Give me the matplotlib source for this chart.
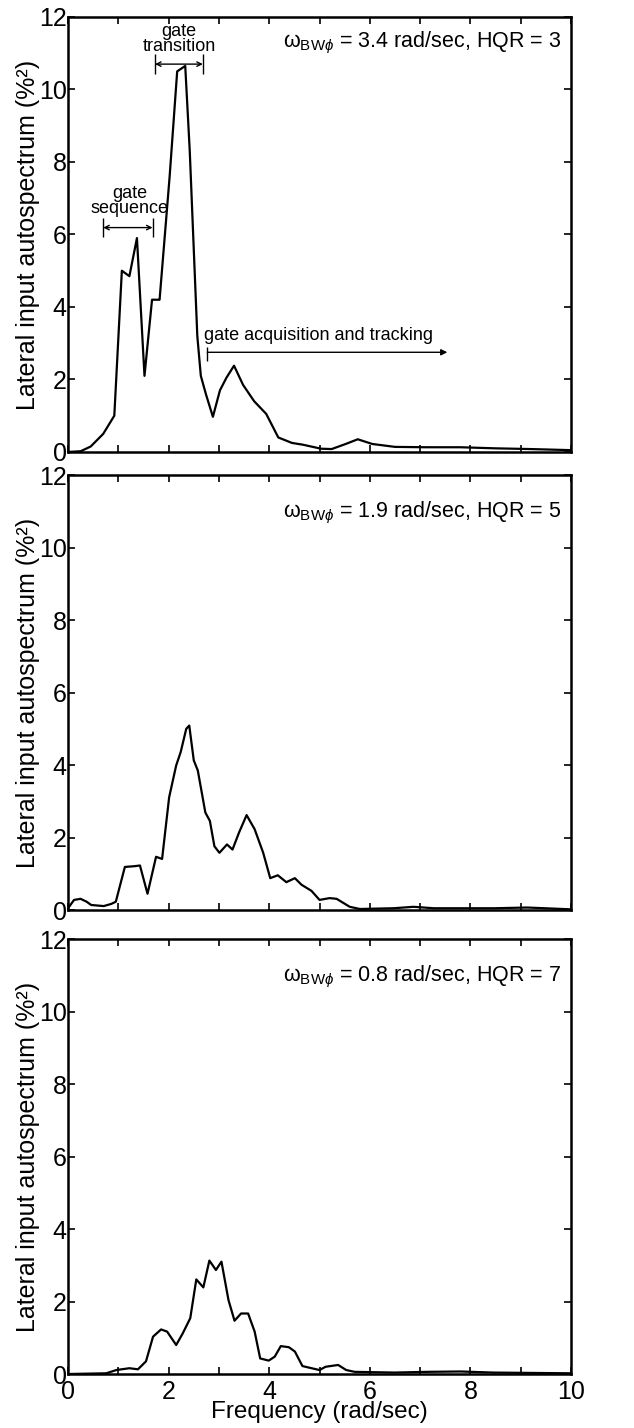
import numpy as np
import matplotlib
matplotlib.use('Agg')
import matplotlib.pyplot as plt

plt.rcParams['font.family'] = ['Liberation Sans', 'DejaVu Sans']
plt.rcParams['mathtext.fontset'] = 'custom'
plt.rcParams['mathtext.rm'] = 'Liberation Sans'
plt.rcParams['mathtext.it'] = 'Liberation Sans:italic'
plt.rcParams['mathtext.fallback'] = 'stixsans'

# --- autospectra (rad/sec, %^2) ---
freq_hqr3 = [0, 0.25, 0.45, 0.7, 0.92, 1.07, 1.22, 1.37, 1.52, 1.67, 1.82, 2.02, 2.17, 2.33,
             2.42, 2.57, 2.64, 2.74, 2.88, 3.02, 3.15, 3.3, 3.48, 3.7, 3.94, 4.18, 4.45, 4.67,
             5.03, 5.24, 5.52, 5.76, 6.05, 6.5, 7.1, 7.8, 8.5, 9.2, 10]
psd_hqr3 = [0, 0.02, 0.15, 0.5, 1.0, 5.0, 4.85, 5.9, 2.1, 4.2, 4.2, 7.6, 10.5, 10.65,
            8.3, 3.2, 2.1, 1.6, 0.97, 1.7, 2.05, 2.38, 1.85, 1.4, 1.05, 0.4, 0.25, 0.2,
            0.09, 0.08, 0.22, 0.35, 0.22, 0.14, 0.13, 0.13, 0.1, 0.08, 0.05]

freq_hqr5 = [0, 0.12, 0.25, 0.37, 0.46, 0.71, 0.86, 0.95, 1.13, 1.32, 1.43, 1.58, 1.75, 1.87,
             2.01, 2.15, 2.24, 2.35, 2.41, 2.5, 2.58, 2.73, 2.82, 2.91, 3.01, 3.16, 3.27, 3.4,
             3.55, 3.71, 3.88, 4.02, 4.17, 4.34, 4.51, 4.64, 4.84, 5.0, 5.2, 5.34, 5.6, 5.8,
             6.47, 6.87, 7.27, 8.47, 9.13, 10]
psd_hqr5 = [0.05, 0.28, 0.31, 0.23, 0.14, 0.11, 0.17, 0.23, 1.19, 1.21, 1.23, 0.45, 1.47, 1.41,
            3.11, 3.99, 4.36, 5.0, 5.09, 4.13, 3.85, 2.69, 2.46, 1.76, 1.58, 1.81, 1.67, 2.14,
            2.62, 2.23, 1.58, 0.88, 0.96, 0.77, 0.88, 0.7, 0.53, 0.28, 0.33, 0.31, 0.09, 0.03,
            0.05, 0.09, 0.05, 0.05, 0.07, 0.02]

freq_hqr7 = [0, 0.76, 0.96, 1.22, 1.39, 1.55, 1.69, 1.85, 1.97, 2.15, 2.28, 2.43, 2.55, 2.69,
             2.81, 2.94, 3.05, 3.19, 3.31, 3.44, 3.58, 3.71, 3.82, 3.99, 4.11, 4.23, 4.39, 4.51,
             4.66, 4.78, 5.0, 5.12, 5.37, 5.53, 5.7, 6.49, 7.14, 7.8, 8.46, 10]
psd_hqr7 = [0.0, 0.02, 0.11, 0.16, 0.13, 0.35, 1.03, 1.23, 1.17, 0.8, 1.12, 1.54, 2.61, 2.39,
            3.13, 2.87, 3.1, 2.04, 1.47, 1.67, 1.67, 1.17, 0.43, 0.37, 0.48, 0.77, 0.74, 0.62,
            0.22, 0.18, 0.11, 0.2, 0.25, 0.11, 0.06, 0.04, 0.06, 0.07, 0.04, 0.02]

bandwidths = ['3.4', '1.9', '0.8']
hqr = ['3', '5', '7']
label_y = [11.28, 10.95, 10.95]

# gate phase annotations on the top panel (x0, x1, y)
seq_span = [0.70, 1.68, 6.19]
trans_span = [1.73, 2.68, 10.7]
acq_span = [2.77, 7.54, 2.75]

fig = plt.figure(figsize=(6.34, 14.28), dpi=100)
bottoms = [0.6835, 0.3627, 0.0378]
series = [(freq_hqr3, psd_hqr3), (freq_hqr5, psd_hqr5), (freq_hqr7, psd_hqr7)]

axes = []
for i, (f, p) in enumerate(series):
    ax = fig.add_axes([0.1073, bottoms[i], 0.7934, 0.3046])
    ax.plot(f, p, color='black', lw=1.6)
    ax.set_xlim(0, 10)
    ax.set_ylim(0, 12)
    ax.set_xticks(np.arange(0, 11, 1))
    ax.set_yticks(np.arange(0, 13, 2))
    ax.tick_params(direction='in', top=True, right=True, length=5, width=1.2,
                   labelsize=18, pad=1)
    ax.tick_params(axis='x', pad=4)
    if i < 2:
        ax.set_xticklabels([])
    else:
        ax.set_xticklabels([str(t) if t % 2 == 0 else '' for t in range(11)])
        ax.set_xlabel('Frequency (rad/sec)', fontsize=17.5, labelpad=-2)
    ax.set_ylabel('Lateral input autospectrum (%²)', fontsize=18, labelpad=-1)
    for s in ax.spines.values():
        s.set_linewidth(1.8)
    ax.text(9.8, label_y[i],
            r'$\mathrm{\omega}_{\mathrm{BW}\phi}$ = ' + bandwidths[i] + ' rad/sec, HQR = ' + hqr[i],
            ha='right', va='center', fontsize=15.5)
    axes.append(ax)

ax = axes[0]
for span in [seq_span, trans_span]:
    ax.annotate('', xy=(span[0], span[2]), xytext=(span[1], span[2]),
                arrowprops=dict(arrowstyle='<->', lw=1.0, color='black',
                                shrinkA=0, shrinkB=0, mutation_scale=8))
    ax.vlines([span[0], span[1]], span[2] - 0.27, span[2] + 0.27, color='black', lw=1.0)
ax.text((seq_span[0] + seq_span[1]) / 2 + 0.03, seq_span[2] + 0.28, 'gate\nsequence',
        ha='center', va='bottom', fontsize=13, linespacing=0.85)
ax.text((trans_span[0] + trans_span[1]) / 2, trans_span[2] + 0.25, 'gate\ntransition',
        ha='center', va='bottom', fontsize=13, linespacing=0.85)

ax.annotate('', xy=(acq_span[1], acq_span[2]), xytext=(acq_span[0], acq_span[2]),
            arrowprops=dict(arrowstyle='-|>', lw=1.0, color='black',
                            shrinkA=0, shrinkB=0, mutation_scale=9))
ax.vlines([acq_span[0]], acq_span[2] - 0.25, acq_span[2] + 0.15, color='black', lw=1.0)
ax.text(acq_span[0] - 0.07, acq_span[2] + 0.22, 'gate acquisition and tracking',
        ha='left', va='bottom', fontsize=13)

fig.savefig('out.png', dpi=100)
